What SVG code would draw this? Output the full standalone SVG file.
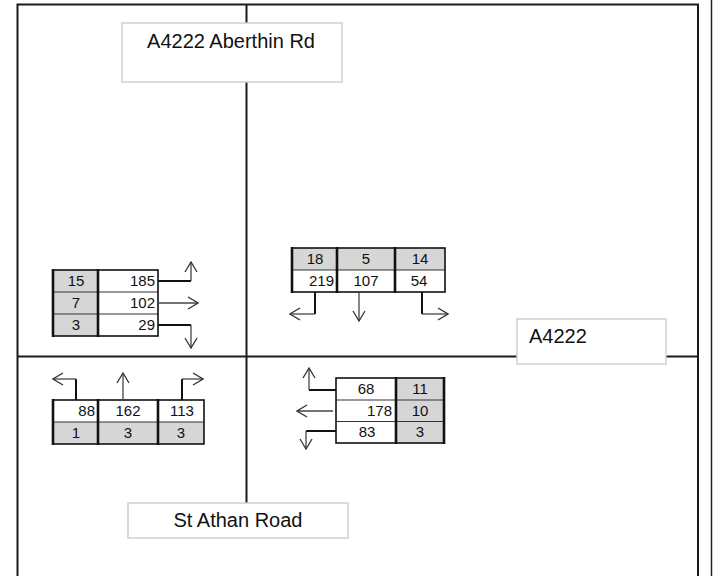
<svg xmlns="http://www.w3.org/2000/svg" width="713" height="576" viewBox="0 0 713 576">
<style>
.road{stroke:#1a1a1a;stroke-width:2;fill:none}
.lbl{fill:#fff;stroke:#d0d0d0;stroke-width:1.5}
.lt{font-family:"Liberation Sans",Arial,sans-serif;font-size:20px;fill:#111}
.g{fill:#d6d6d6}
.w{fill:#fff}
.ob{fill:none;stroke:#111;stroke-width:1.6}
.tk{stroke:#111;stroke-width:2.6}
.rl{stroke:#333;stroke-width:1.2}
.n{font-family:"Liberation Sans",Arial,sans-serif;font-size:15px;fill:#111}
.c{text-anchor:middle}
.r{text-anchor:end}
.a1{stroke:#111;stroke-width:2;fill:none}
.a2{stroke:#444;stroke-width:1.3;fill:none}
</style>
<defs>
<marker id="ah" viewBox="0 0 12 14" refX="11" refY="7" markerWidth="12" markerHeight="14" markerUnits="userSpaceOnUse" orient="auto">
<path d="M1,1 L11,7 L1,13" fill="none" stroke="#333" stroke-width="1.3"/>
</marker>
</defs>
<rect width="713" height="576" fill="#fff"/>
<g id="frame">
<path class="road" d="M17.5,576 V4.5 H698 V576"/>
<path d="M711.5,0 V576" stroke="#222" stroke-width="1.5"/>
</g>
<g id="roads">
<path class="road" d="M246.5,4.5 V503"/>
<path class="road" d="M17.5,356.5 H698"/>
</g>
<g id="label-north">
<rect class="lbl" x="122" y="23" width="220" height="59"/>
<text class="lt c" x="231" y="48">A4222 Aberthin Rd</text>
</g>
<g id="label-east">
<rect class="lbl" x="517" y="319" width="149" height="45"/>
<text class="lt" x="529" y="343">A4222</text>
</g>
<g id="label-south">
<rect class="lbl" x="128" y="503" width="220" height="35"/>
<text class="lt c" x="238" y="527">St Athan Road</text>
</g>
<g id="table-west">
<rect class="g" x="53" y="270" width="45" height="66"/>
<rect class="w" x="98" y="270" width="60" height="66"/>
<line class="rl" x1="53" y1="292" x2="158" y2="292"/>
<line class="rl" x1="53" y1="314" x2="158" y2="314"/>
<rect class="ob" x="53" y="270" width="105" height="66"/>
<line class="tk" x1="53" y1="269" x2="53" y2="337"/>
<line class="tk" x1="98" y1="269" x2="98" y2="337"/>
<text class="n c" x="76" y="286">15</text>
<text class="n c" x="76" y="308">7</text>
<text class="n c" x="76" y="330">3</text>
<text class="n r" x="155" y="286">185</text>
<text class="n r" x="155" y="308">102</text>
<text class="n r" x="155" y="330">29</text>
</g>
<g id="table-north">
<rect class="g" x="292" y="248" width="153" height="22"/>
<rect class="w" x="292" y="270" width="153" height="22"/>
<line class="rl" x1="292" y1="270" x2="445" y2="270"/>
<rect class="ob" x="292" y="248" width="153" height="44"/>
<line class="tk" x1="292" y1="247" x2="292" y2="293"/>
<line class="tk" x1="337" y1="247" x2="337" y2="293"/>
<line class="tk" x1="395" y1="247" x2="395" y2="293"/>
<text class="n c" x="315" y="264">18</text>
<text class="n c" x="366" y="264">5</text>
<text class="n c" x="420" y="264">14</text>
<text class="n r" x="334" y="286">219</text>
<text class="n c" x="366" y="286">107</text>
<text class="n c" x="419" y="286">54</text>
</g>
<g id="table-south">
<rect class="w" x="53" y="400" width="151" height="22"/>
<rect class="g" x="53" y="422" width="151" height="22"/>
<line class="rl" x1="53" y1="422" x2="204" y2="422"/>
<rect class="ob" x="53" y="400" width="151" height="44"/>
<line class="tk" x1="53" y1="399" x2="53" y2="445"/>
<line class="tk" x1="98" y1="399" x2="98" y2="445"/>
<line class="tk" x1="158" y1="399" x2="158" y2="445"/>
<text class="n r" x="95" y="416">88</text>
<text class="n c" x="128" y="416">162</text>
<text class="n c" x="182" y="416">113</text>
<text class="n c" x="76" y="438">1</text>
<text class="n c" x="128" y="438">3</text>
<text class="n c" x="181" y="438">3</text>
</g>
<g id="table-east">
<rect class="w" x="336" y="378" width="60" height="65"/>
<rect class="g" x="396" y="378" width="48" height="65"/>
<line class="rl" x1="336" y1="400" x2="444" y2="400"/>
<line class="rl" x1="336" y1="421.5" x2="444" y2="421.5"/>
<rect class="ob" x="336" y="378" width="108" height="65"/>
<line class="tk" x1="396" y1="377" x2="396" y2="444"/>
<line class="tk" x1="444" y1="377" x2="444" y2="444"/>
<text class="n c" x="366" y="394">68</text>
<text class="n r" x="392" y="416">178</text>
<text class="n c" x="367" y="437">83</text>
<text class="n c" x="420" y="394">11</text>
<text class="n c" x="420" y="416">10</text>
<text class="n c" x="420" y="437">3</text>
</g>
<g id="connectors">
<path class="a1" d="M158,281 H191"/><path class="a2" d="M191,281 V262" marker-end="url(#ah)"/>
<path class="a2" d="M158,303 H198" marker-end="url(#ah)"/>
<path class="a1" d="M158,325 H191"/><path class="a2" d="M191,325 V348" marker-end="url(#ah)"/>
<path class="a1" d="M315,292 V314"/><path class="a2" d="M315,314 H290" marker-end="url(#ah)"/>
<path class="a2" d="M359,292 V321" marker-end="url(#ah)"/>
<path class="a1" d="M422,292 V314"/><path class="a2" d="M422,314 H448" marker-end="url(#ah)"/>
<path class="a1" d="M76,400 V379"/><path class="a2" d="M76,379 H53" marker-end="url(#ah)"/>
<path class="a2" d="M123,400 V373" marker-end="url(#ah)"/>
<path class="a1" d="M182,400 V379"/><path class="a2" d="M182,379 H203" marker-end="url(#ah)"/>
<path class="a1" d="M336,390 H309"/><path class="a2" d="M309,390 V368" marker-end="url(#ah)"/>
<path class="a2" d="M333,411 H297" marker-end="url(#ah)"/>
<path class="a1" d="M336,431 H306"/><path class="a2" d="M306,431 V449" marker-end="url(#ah)"/>
</g>
</svg>
